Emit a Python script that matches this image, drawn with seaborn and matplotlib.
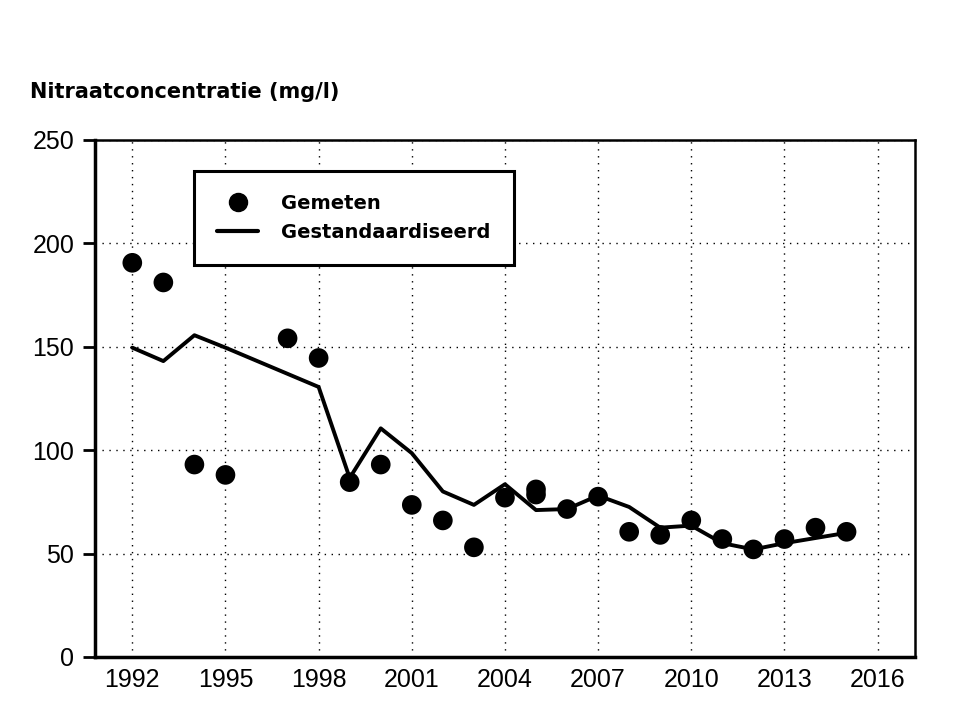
import numpy as np
import pandas as pd
import matplotlib
matplotlib.use('Agg')
import matplotlib.pyplot as plt
import seaborn as sns
from matplotlib.lines import Line2D

# measured values
meas_years = [1992, 1993, 1994, 1995, 1997, 1998, 1999, 2000, 2001, 2002, 2003,
              2004, 2005, 2005, 2006, 2007, 2008, 2009, 2010, 2011, 2012, 2013, 2014, 2015]
meas_vals = [190.5, 181, 93, 88, 154, 144.5, 84.5, 93, 73.5, 66, 53,
             77, 81, 78.5, 71.5, 77.5, 60.5, 59, 66, 57, 52, 57, 62.5, 60.5]

# standardised series
std_years = [1992, 1993, 1994, 1995, 1998, 1999, 2000, 2001, 2002, 2003, 2004,
             2005, 2006, 2007, 2008, 2009, 2010, 2011, 2012, 2013, 2014, 2015]
std_vals = [149.5, 143, 155.5, 149.5, 130.5, 86.5, 110.5, 98.5, 80, 73.5, 83.5,
            71, 71.5, 78, 72.5, 62.5, 63.5, 55, 52, 55, 57.5, 60]

x_ticks = [1992, 1995, 1998, 2001, 2004, 2007, 2010, 2013, 2016]
y_ticks = [0, 50, 100, 150, 200, 250]

meas_df = pd.DataFrame({'Jaar': meas_years, 'Waarde': meas_vals})
std_df = pd.DataFrame({'Jaar': std_years, 'Waarde': std_vals})

sns.set_style('white')
plt.rcParams['font.family'] = ['Liberation Sans', 'DejaVu Sans']
plt.rcParams['text.color'] = 'black'
plt.rcParams['xtick.color'] = 'black'
plt.rcParams['ytick.color'] = 'black'

fig = plt.figure(figsize=(9.6, 7.2), dpi=100)
ax = fig.add_axes([0.099, 0.0875, 0.854, 0.7185])

sns.lineplot(data=std_df, x='Jaar', y='Waarde', ax=ax, color='black', linewidth=2.8, zorder=3)
sns.scatterplot(data=meas_df, x='Jaar', y='Waarde', ax=ax, color='black', s=200,
                edgecolor='none', zorder=4)

ax.set_xlim(1990.8, 2017.2)
ax.set_ylim(0, 250)
ax.set_xticks(x_ticks)
ax.set_yticks(y_ticks)
ax.tick_params(axis='both', labelsize=18, color='black', labelcolor='black')
ax.tick_params(axis='y', direction='out', length=9, width=2, left=True, pad=6)
ax.tick_params(axis='x', length=0, pad=8)
ax.grid(True, linestyle=(0, (1, 4)), color='black', linewidth=1)
ax.set_xlabel('')
ax.set_ylabel('')

for side in ['left', 'bottom']:
    ax.spines[side].set_linewidth(2.5)
    ax.spines[side].set_color('black')
for side in ['top', 'right']:
    ax.spines[side].set_linewidth(1.8)
    ax.spines[side].set_color('black')

fig.text(0.031, 0.872, 'Nitraatconcentratie (mg/l)', fontsize=15, fontweight='bold',
         family=['DejaVu Sans'], color='black', ha='left', va='center')

handles = [Line2D([], [], marker='o', linestyle='none', color='black', markersize=13),
           Line2D([], [], color='black', linewidth=3)]
leg = ax.legend(handles, ['Gemeten', 'Gestandaardiseerd'], loc='upper left',
                bbox_to_anchor=(0.1207, 0.94), frameon=True, fancybox=False,
                prop={'family': 'DejaVu Sans', 'weight': 'bold', 'size': 14},
                borderpad=1.2, handlelength=2.1, labelspacing=0.5, handletextpad=1.2,
                borderaxespad=0)
leg.get_frame().set_edgecolor('black')
leg.get_frame().set_linewidth(2.2)
leg.get_frame().set_alpha(1)
leg.set_zorder(5)
for t in leg.get_texts():
    t.set_color('black')

fig.savefig('out.png', dpi=100)
